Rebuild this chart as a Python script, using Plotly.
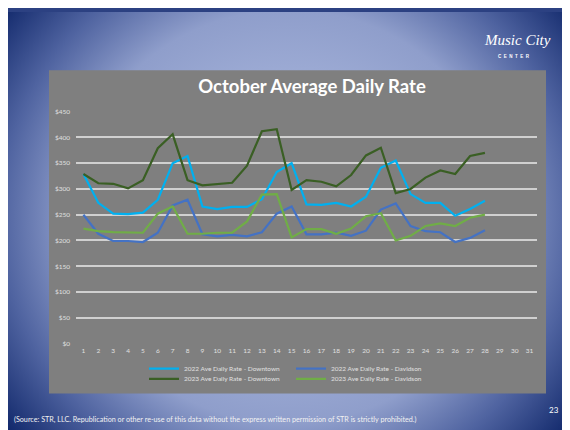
import base64
import plotly.graph_objects as go

# October days
days = list(range(1, 29))

# average daily rate (days 1-28)
adr_2022_downtown = [329, 273, 252, 251, 254, 279, 350, 364, 266, 261, 265, 265, 280, 333,
                     350, 270, 269, 273, 266, 285, 341, 355, 290, 273, 273, 248, 261, 277]
adr_2022_davidson = [250, 213, 199, 199, 197, 215, 268, 279, 212, 208, 211, 208, 216, 252,
                     266, 212, 212, 215, 209, 219, 260, 272, 228, 218, 216, 197, 205, 220]
adr_2023_downtown = [329, 311, 310, 301, 317, 379, 406, 317, 307, 310, 312, 345, 412, 416,
                     298, 317, 314, 305, 327, 365, 380, 292, 300, 322, 336, 329, 364, 370]
adr_2023_davidson = [223, 218, 216, 215, 215, 252, 266, 213, 213, 215, 215, 237, 289, 290,
                     206, 222, 222, 213, 223, 247, 253, 200, 209, 228, 233, 228, 244, 250]

series_names = ["2022 Ave Daily Rate - Downtown", "2022 Ave Daily Rate - Davidson",
                "2023 Ave Daily Rate - Downtown", "2023 Ave Daily Rate - Davidson"]
series_values = [adr_2022_downtown, adr_2022_davidson, adr_2023_downtown, adr_2023_davidson]
series_colors = ["#00B0F0", "#4472C4", "#3A5F24", "#70AD47"]

x_ticks = list(range(1, 32))
y_ticks = list(range(0, 451, 50))
y_labels = ["$" + str(v) for v in y_ticks]

W, H = 570, 430
OFF = 8  # page margin round the figure


# positions below are in page pixels, turned into paper fractions here
def px(x):
    return (x - OFF) / W


def py(y):
    return 1 - (y - OFF) / H


# slide background gradient as an inline svg
svg = """<svg xmlns="http://www.w3.org/2000/svg" width="570" height="430" viewBox="0 0 570 430" preserveAspectRatio="none">
<defs><radialGradient id="g" gradientUnits="userSpaceOnUse" cx="0" cy="0" r="1"
 gradientTransform="translate(280 208) scale(360 350)">
<stop offset="0" stop-color="#BAC6E8"/>
<stop offset="0.6" stop-color="#8F9ECB"/>
<stop offset="0.8" stop-color="#4F63A0"/>
<stop offset="1" stop-color="#10276A"/>
</radialGradient></defs>
<rect x="0" y="0" width="570" height="430" fill="url(#g)"/>
</svg>"""
bg_src = "data:image/svg+xml;base64," + base64.b64encode(svg.encode()).decode()

fig = go.Figure()

# legend positions: (legend id, x of legend box, y of row)
legend_slots = [("legend", 144, 370.5), ("legend2", 291, 370.5),
                ("legend3", 144, 381), ("legend4", 291, 381)]

for name, vals, col, slot in zip(series_names, series_values, series_colors, legend_slots):
    fig.add_trace(go.Scatter(
        x=days, y=vals, name=name, mode="lines",
        line=dict(color=col, width=2.2),
        legend=slot[0], hoverinfo="skip"
    ))

legend_font = dict(family="Lato, sans-serif", size=6.5, color="#E0E0E0")
legend_cfg = {}
for lid, lx, ly in legend_slots:
    legend_cfg[lid] = dict(
        x=px(lx), y=py(ly), xanchor="left", yanchor="middle",
        bgcolor="rgba(0,0,0,0)", font=legend_font, itemwidth=30,
        tracegroupgap=0
    )

fig.update_layout(
    width=W, height=H,
    margin=dict(l=0, r=0, t=0, b=0),
    paper_bgcolor="#2C4182",
    plot_bgcolor="#7F7F7F",
    showlegend=True,
    title=dict(
        text="<b>October Average Daily Rate</b>",
        x=px(312), y=py(87), xanchor="center", yanchor="middle",
        font=dict(family="Lato, sans-serif", size=18.5, color="white")
    ),
    xaxis=dict(
        domain=[px(76), px(537)], range=[0.5, 31.5],
        tickvals=x_ticks, showgrid=False, zeroline=False, showline=False,
        tickfont=dict(family="Lato, sans-serif", size=6.5, color="#E0E0E0"),
        ticks="", ticklabelstandoff=2
    ),
    yaxis=dict(
        domain=[py(345), py(109.3)], range=[0, 450],
        tickvals=y_ticks, ticktext=y_labels,
        showgrid=True, gridcolor="#D0D0D0", gridwidth=1.6,
        zeroline=False, showline=False, ticks="",
        tickfont=dict(family="Lato, sans-serif", size=6.5, color="#E0E0E0"),
        ticklabelstandoff=5
    ),
    images=[dict(
        source=bg_src, xref="paper", yref="paper",
        x=0, y=1, sizex=1, sizey=1,
        xanchor="left", yanchor="top", sizing="stretch", layer="below"
    )],
    shapes=[dict(
        type="rect", xref="paper", yref="paper",
        x0=px(49), x1=px(546), y0=py(395.7), y1=py(67.3),
        fillcolor="#7F7F7F", line=dict(width=0), layer="below"
    )],
    **legend_cfg
)

# source note, slide number and logo
fig.add_annotation(
    text="(Source: STR, LLC. Republication or other re-use of this data without the express "
         "written permission of STR is strictly prohibited.)",
    x=px(12), y=py(422.5), xref="paper", yref="paper", xanchor="left", yanchor="middle",
    showarrow=False, font=dict(family="Lato, sans-serif", size=7.2, color="#F2F2F2")
)
fig.add_annotation(
    text="23", x=px(554), y=py(412.5), xref="paper", yref="paper",
    xanchor="center", yanchor="middle", showarrow=False,
    font=dict(family="Lato, sans-serif", size=8, color="white")
)
fig.add_annotation(
    text="<i>Music City</i>", x=px(517), y=py(36), xref="paper", yref="paper",
    xanchor="center", yanchor="middle", showarrow=False,
    font=dict(family="Liberation Serif, serif", size=15, color="white")
)
fig.add_annotation(
    text="<b>C  E  N  T  E  R</b>", x=px(514), y=py(53), xref="paper", yref="paper",
    xanchor="center", yanchor="middle", showarrow=False,
    font=dict(family="Liberation Sans, sans-serif", size=4.5, color="white")
)

fig.write_html("out.html")
